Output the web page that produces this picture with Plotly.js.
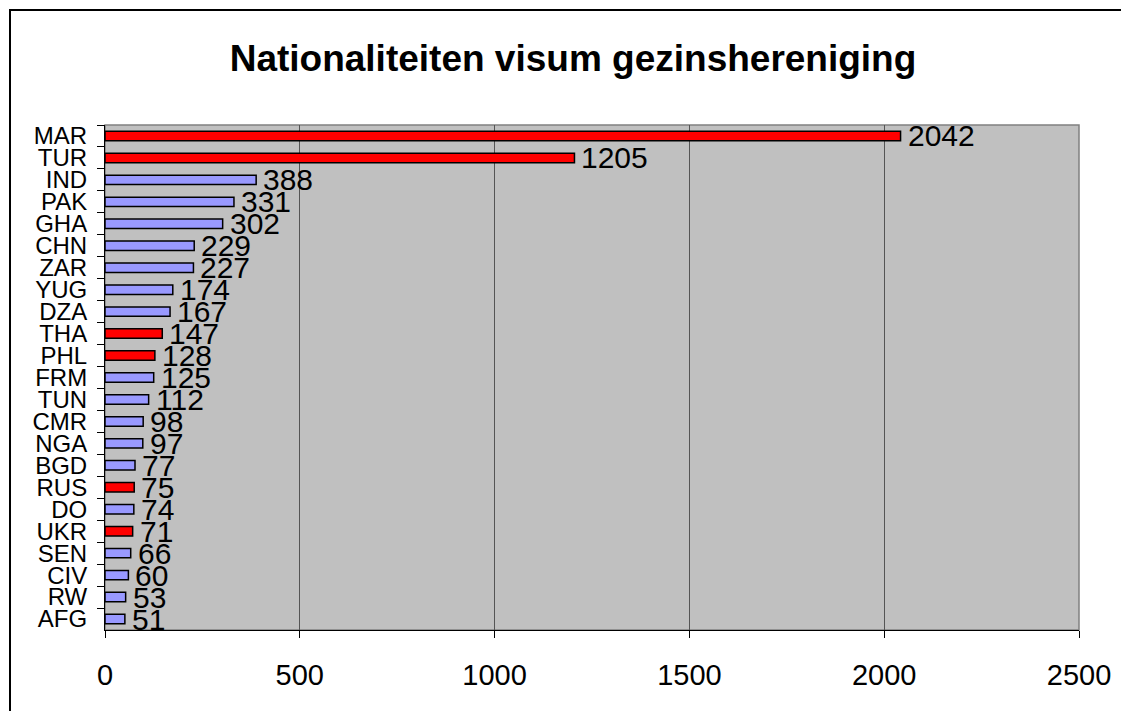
<!DOCTYPE html>
<html>
<head>
<meta charset="utf-8">
<script src="https://cdn.plot.ly/plotly-3.0.1.min.js"></script>
<style>
html,body{margin:0;padding:0;background:#fff;overflow:hidden;}
#wrap{position:relative;width:1121px;height:711px;overflow:hidden;}
#chart{width:1121px;height:711px;}
#frame{position:absolute;left:9px;top:9px;width:2000px;height:2000px;border-left:2px solid #000;border-top:2px solid #000;pointer-events:none;}
</style>
</head>
<body>
<div id="wrap"><div id="chart"></div><div id="frame"></div></div>
<script>
const categories = ["MAR","TUR","IND","PAK","GHA","CHN","ZAR","YUG","DZA","THA","PHL","FRM","TUN","CMR","NGA","BGD","RUS","DO","UKR","SEN","CIV","RW","AFG"];
const values = [2042,1205,388,331,302,229,227,174,167,147,128,125,112,98,97,77,75,74,71,66,60,53,51];
const highlighted = ["MAR","TUR","THA","PHL","RUS","UKR"];
const xTicks = [0,500,1000,1500,2000,2500];

const RED = "#FF0000", BLUE = "#9999FF";
const colors = categories.map(c => highlighted.includes(c) ? RED : BLUE);
const FONT = "Liberation Sans, Arial, sans-serif";

const W = 1121, H = 711;
const M = {l: 105, r: 42, t: 125, b: 81};

const trace = {
  type: "bar",
  orientation: "h",
  x: values,
  y: categories,
  marker: {color: colors, line: {color: "#000", width: 1.5}},
  hoverinfo: "x+y"
};

const annotations = categories.map((c, i) => ({
  x: values[i], y: c, xref: "x", yref: "y",
  text: String(values[i]), showarrow: false,
  xanchor: "left", yanchor: "middle", xshift: 5,
  font: {family: FONT, size: 30, color: "#000"}
}));

const layout = {
  width: W, height: H,
  margin: M,
  paper_bgcolor: "#fff",
  plot_bgcolor: "#C0C0C0",
  showlegend: false,
  bargap: 0.57,
  font: {family: FONT, color: "#000"},
  title: {
    text: "<b>Nationaliteiten visum gezinshereniging</b>",
    font: {family: FONT, size: 37, color: "#000"},
    x: 573 / W, xref: "container", xanchor: "center",
    y: 1 - 58 / H, yref: "container", yanchor: "middle"
  },
  xaxis: {
    range: [0, 2500],
    tickvals: xTicks,
    ticktext: xTicks.map(String),
    showgrid: true, gridcolor: "#555", gridwidth: 1,
    zeroline: false,
    showline: true, linecolor: "#000", linewidth: 1,
    ticks: "outside", ticklen: 7, tickcolor: "#000",
    ticklabelstandoff: 12,
    tickfont: {family: FONT, size: 29, color: "#000"},
    fixedrange: true
  },
  yaxis: {
    type: "category",
    categoryorder: "array",
    categoryarray: categories,
    range: [categories.length - 0.5, -0.5],
    autorange: false,
    dtick: 1,
    tickson: "boundaries",
    showgrid: false,
    showline: true, linecolor: "#000", linewidth: 1,
    ticks: "outside", ticklen: 7, tickcolor: "#000",
    tickfont: {family: FONT, size: 24, color: "#000"},
    ticklabelstandoff: 12,
    fixedrange: true
  },
  annotations: annotations,
  shapes: [
    {type: "rect", xref: "paper", yref: "paper", x0: 0, x1: 1, y0: 0, y1: 1,
     line: {color: "#808080", width: 1.5}, layer: "below"}
  ]
};

Plotly.newPlot("chart", [trace], layout, {displayModeBar: false, staticPlot: true});
</script>
</body>
</html>
